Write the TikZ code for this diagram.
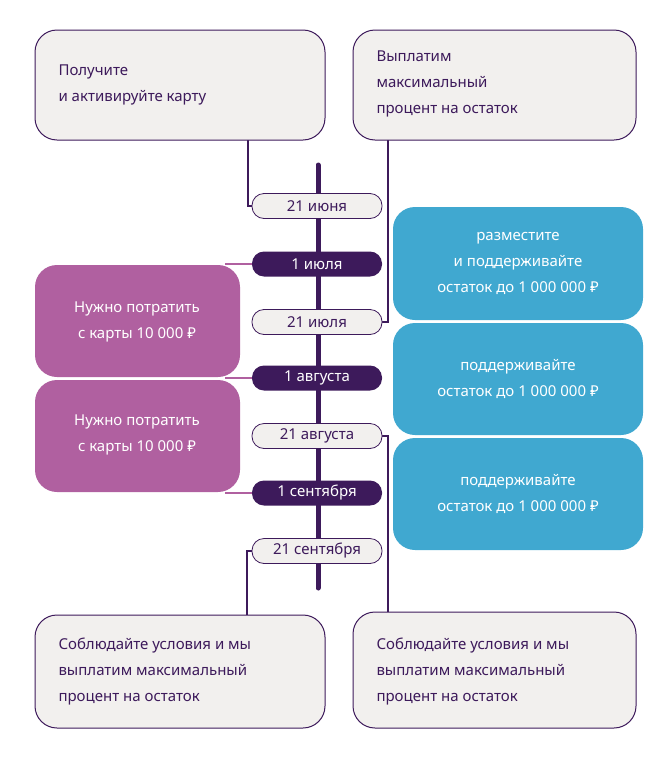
\documentclass[tikz,border=0pt]{standalone}
\usepackage{fontspec}
\setmainfont{Noto Sans}
\definecolor{tmno}{HTML}{3D1A5B}
\definecolor{seriy}{HTML}{F2F0EE}
\definecolor{rozov}{HTML}{B060A0}
\definecolor{goluboy}{HTML}{40A8D0}
\tikzset{
  karta/.style={draw=tmno, line width=1pt, fill=seriy, rounded corners=22pt},
  rozbox/.style={fill=rozov, rounded corners=22pt},
  golbox/.style={fill=goluboy, rounded corners=22pt},
  svetdata/.style={draw=tmno, line width=0.8pt, fill=seriy, rounded corners=12pt, minimum width=130pt, minimum height=25pt, text=tmno, inner sep=0pt},
  temdata/.style={fill=tmno, rounded corners=12pt, minimum width=130pt, minimum height=25pt, text=white, inner sep=0pt},
  liniya/.style={draw=tmno, line width=1.2pt},
  tekst/.style={align=left, text=tmno, font=\fontsize{15}{26}\selectfont},
  btekst/.style={align=center, text=white, font=\fontsize{15}{26}\selectfont}
}
\begin{document}
\begin{tikzpicture}[x=1pt, y=-1pt, font=\fontsize{15}{18}\selectfont]
\useasboundingbox (0,0) rectangle (656,758);
% connectors behind
\draw[tmno, line width=5pt, line cap=round] (318,165) -- (318,588);
\draw[liniya] (248,140) -- (248,206) -- (252,206);
\draw[liniya] (388,140) -- (388,322) -- (382,322);
\draw[liniya] (382,436) -- (388,436) -- (388,612);
\draw[liniya] (252,551) -- (247,551) -- (247,615);
\draw[rozov, line width=1.2pt] (225,264) -- (252,264);
\draw[rozov, line width=1.2pt] (225,378) -- (252,378);
\draw[rozov, line width=1.2pt] (225,493) -- (252,493);
% boxes
\draw[karta] (35,30) rectangle (325,140);
\node[tekst, anchor=west] (poluchite) at (55,85) {Получите\\и активируйте карту};
\draw[karta] (353,30) rectangle (636,140);
\node[tekst, anchor=west] (vyplatim) at (373,84) {Выплатим\\максимальный\\процент на остаток};
\fill[rozbox] (35,265) rectangle (240,377);
\node[btekst] (potratit1) at (137,322) {Нужно потратить\\с карты 10 000 ₽};
\fill[rozbox] (35,380) rectangle (240,492);
\node[btekst] (potratit2) at (137,435) {Нужно потратить\\с карты 10 000 ₽};
\fill[golbox] (393,207) rectangle (643,320);
\node[btekst] (ostatok1) at (518,263) {разместите\\и поддерживайте\\остаток до 1 000 000 ₽};
\fill[golbox] (393,323) rectangle (643,435);
\node[btekst] (ostatok2) at (518,379) {поддерживайте\\остаток до 1 000 000 ₽};
\fill[golbox] (393,438) rectangle (643,550);
\node[btekst] (ostatok3) at (518,494) {поддерживайте\\остаток до 1 000 000 ₽};
\draw[karta] (35,615) rectangle (325,728);
\node[tekst, anchor=west] (usloviya1) at (55,672) {Соблюдайте условия и мы\\выплатим максимальный\\процент на остаток};
\draw[karta] (353,612) rectangle (636,728);
\node[tekst, anchor=west] (usloviya2) at (373,672) {Соблюдайте условия и мы\\выплатим максимальный\\процент на остаток};
% dates
\node[svetdata] (iyun21) at (317,206) {21 июня};
\node[temdata] (iyul1) at (317,264) {1 июля};
\node[svetdata] (iyul21) at (317,322) {21 июля};
\node[temdata] (avg1) at (317,378) {1 августа};
\node[svetdata] (avg21) at (317,436) {21 августа};
\node[temdata] (sen1) at (317,493) {1 сентября};
\node[svetdata] (sen21) at (317,551) {21 сентября};
\end{tikzpicture}
\end{document}
